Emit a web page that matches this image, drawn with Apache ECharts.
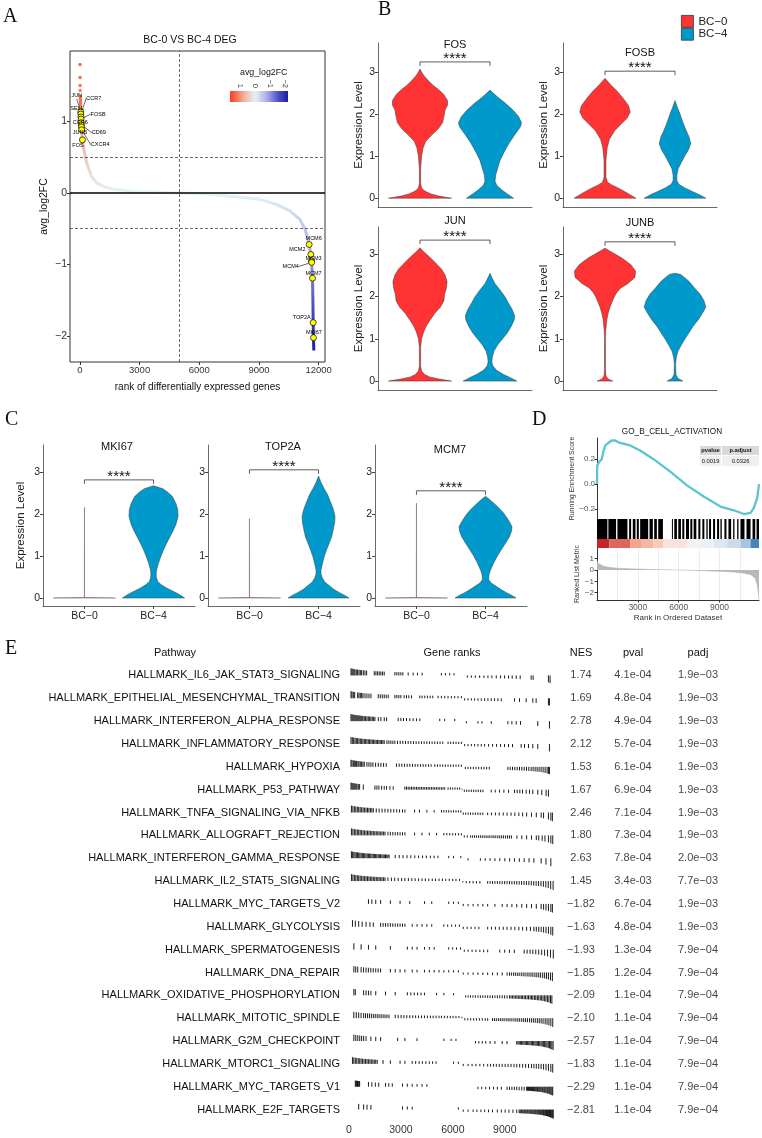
<!DOCTYPE html>
<html><head><meta charset="utf-8">
<script src="https://cdn.jsdelivr.net/npm/echarts@6/dist/echarts.min.js"></script>
<style>html,body{margin:0;padding:0;background:#fff}#c{width:762px;height:1138px}</style>
</head><body><div id="c"></div>
<script>
const FONT = "'Liberation Sans', Arial, Helvetica, sans-serif";
const SERIF = "'Liberation Serif', 'Times New Roman', Times, serif";
const MINUS = '\u2212';
const fmtMinus = v => (v < 0 ? MINUS : '') + Math.abs(v);
const N_GENES = 11900;

// ================= Panel A data =================
const aTitle = 'BC-0 VS BC-4 DEG';
const aRankTicks = [0, 3000, 6000, 9000, 12000];
const aFcTicks = [-2, -1, 0, 1];
const aFcCutoff = [0.5, -0.5];
const aRankCut = [5000];
const aCurve = [[15,1.37],[28,1.24],[40,1.13],[58,1.03],[72,0.95],[86,0.88],[105,0.8],[125,0.74],[201,0.6],[302,0.46],[419,0.35],[586,0.23],[838,0.14],[1173,0.09],[1675,0.05],[2680,0.02],[3853,0.01],[4975,0.0],[6030,-0.01],[7705,-0.05],[9045,-0.09],[9883,-0.16],[10553,-0.25],[11055,-0.37],[11306,-0.5],[11474,-0.65],[11524,-0.72],[11608,-0.86],[11641,-0.95],[11691,-1.18],[11712,-1.5],[11725,-1.81],[11741,-2.02],[11750,-2.12],[11758,-2.2]];
const aTopDots = [[3,1.79],[6,1.61],[9,1.50],[12,1.43]];
const aGeneNames = ['JUN','CCR7','SELL','FOSB','CCR6','CD69','JUNB','CXCR4','FOS','MCM6','MCM2','MCM3','MCM4','MCM7','TOP2A','MKI67'];
const aGeneRank = [40,45,52,58,66,72,78,86,125,11524,11608,11641,11650,11691,11725,11741];
const aGeneFC = [1.13,1.10,1.06,1.03,0.98,0.95,0.92,0.88,0.74,-0.72,-0.86,-0.95,-0.97,-1.19,-1.81,-2.02];
const aColorTicks = [1, 0, -1, -2];
const aColorRange = [-2.2, 1.7];
// styles / layout for panel A
const aPaletteVals = [-2.4, -1.6, -0.8, 0, 0.8, 1.6];
const aPalette = ['#0d0d9a', '#4a4ac4', '#a9a9e6', '#e3f6f6', '#f5ab98', '#f4462a'];
const aLabelShift = [[-4,-16],[13,-16],[-4,-8],[17,-5],[-1,0],[17.5,8],[-1.5,6],[18.5,15],[-4.5,5.5],[4.5,-6],[-13.5,-5],[2,-2],[-21,4],[1,-5],[-11.5,-5],[0.5,-5]];
const aLeader = [1,1,0,1,0,1,0,1,0,0,0,0,1,0,0,0];

// ================= Panels B / C data =================
const groups = ['BC\u22120', 'BC\u22124'];
const exprTicks = [0, 1, 2, 3];
const bGenes = ['FOS', 'FOSB', 'JUN', 'JUNB'];
// violin profiles: [expression level, relative half width]
const fosBC0 = [[0,1],[0.05,0.6],[0.1,0.35],[0.15,0.2],[0.2,0.1],[0.25,0.05],[0.35,0.02],[0.7,0.02],[1.0,0.05],[1.2,0.1],[1.35,0.18],[1.5,0.37],[1.65,0.58],[1.8,0.72],[1.95,0.76],[2.1,0.8],[2.22,0.88],[2.33,0.87],[2.48,0.74],[2.6,0.56],[2.68,0.42],[2.8,0.26],[2.88,0.16],[2.97,0.07],[3.07,0]];
const fosBC4 = [[0,0.75],[0.1,0.55],[0.2,0.37],[0.3,0.22],[0.4,0.16],[0.55,0.18],[0.7,0.24],[0.9,0.32],[1.1,0.45],[1.3,0.6],[1.5,0.78],[1.7,0.97],[1.8,1.0],[1.95,0.9],[2.1,0.72],[2.25,0.5],[2.4,0.25],[2.5,0.1],[2.57,0]];
const fosbBC0 = [[0,0.98],[0.08,0.8],[0.16,0.62],[0.25,0.4],[0.32,0.2],[0.38,0.08],[0.5,0.03],[0.9,0.03],[1.2,0.07],[1.4,0.14],[1.6,0.3],[1.75,0.5],[1.9,0.7],[2.05,0.8],[2.2,0.75],[2.4,0.55],[2.55,0.38],[2.7,0.18],[2.85,0]];
const fosbBC4 = [[0,0.98],[0.08,0.78],[0.16,0.55],[0.25,0.3],[0.33,0.12],[0.42,0.06],[0.55,0.06],[0.7,0.1],[0.85,0.2],[1.0,0.31],[1.15,0.43],[1.3,0.5],[1.45,0.45],[1.6,0.36],[1.8,0.25],[2.0,0.16],[2.15,0.08],[2.32,0]];
const junBC0 = [[0,1],[0.05,0.6],[0.1,0.3],[0.16,0.14],[0.24,0.05],[0.35,0.02],[0.8,0.02],[1.0,0.05],[1.15,0.11],[1.3,0.2],[1.45,0.33],[1.6,0.47],[1.75,0.65],[1.9,0.76],[2.05,0.78],[2.2,0.84],[2.35,0.86],[2.5,0.8],[2.65,0.68],[2.8,0.48],[2.95,0.28],[3.07,0.1],[3.15,0]];
const junBC4 = [[0,0.85],[0.08,0.65],[0.16,0.42],[0.26,0.2],[0.36,0.09],[0.45,0.06],[0.55,0.07],[0.7,0.12],[0.85,0.24],[1.0,0.4],[1.15,0.56],[1.3,0.68],[1.45,0.77],[1.55,0.78],[1.7,0.7],[1.85,0.58],[2.0,0.47],[2.15,0.32],[2.3,0.16],[2.45,0.06],[2.55,0]];
const junbBC0 = [[0,0.25],[0.05,0.1],[0.12,0.03],[0.3,0.015],[1.0,0.015],[1.2,0.025],[1.45,0.06],[1.6,0.1],[1.75,0.16],[1.9,0.24],[2.0,0.3],[2.1,0.38],[2.2,0.5],[2.3,0.72],[2.45,0.95],[2.6,0.97],[2.75,0.82],[2.9,0.55],[3.03,0.25],[3.14,0]];
const junbBC4 = [[0,0.25],[0.06,0.1],[0.15,0.03],[0.4,0.02],[0.55,0.04],[0.7,0.09],[0.85,0.2],[1.0,0.32],[1.15,0.45],[1.3,0.58],[1.45,0.74],[1.6,0.87],[1.75,0.98],[1.9,0.92],[2.05,0.8],[2.2,0.62],[2.35,0.45],[2.45,0.3],[2.52,0.18],[2.55,0]];
const bBracket = [3.24, 3.02, 3.33, 3.29];
const bSig = ['****', '****', '****', '****'];
const cGenes = ['MKI67', 'TOP2A', 'MCM7'];
const mki67BC0 = [[0,1],[0.012,0.004],[2.15,0.002],[2.16,0]];
const mki67BC4 = [[0,1],[0.06,0.88],[0.12,0.74],[0.18,0.58],[0.24,0.42],[0.32,0.24],[0.4,0.13],[0.5,0.09],[0.6,0.085],[0.7,0.11],[0.83,0.16],[1.0,0.24],[1.14,0.32],[1.3,0.42],[1.46,0.53],[1.6,0.63],[1.75,0.72],[1.94,0.79],[2.1,0.78],[2.25,0.72],[2.42,0.6],[2.52,0.45],[2.6,0.3],[2.67,0]];
const top2aBC0 = [[0,1],[0.012,0.004],[1.88,0.002],[1.89,0]];
const top2aBC4 = [[0,0.98],[0.06,0.85],[0.12,0.69],[0.2,0.5],[0.28,0.37],[0.38,0.2],[0.48,0.12],[0.58,0.08],[0.67,0.08],[0.8,0.12],[0.98,0.18],[1.15,0.26],[1.3,0.34],[1.45,0.42],[1.62,0.47],[1.8,0.52],[1.94,0.53],[2.1,0.48],[2.22,0.42],[2.35,0.35],[2.46,0.29],[2.6,0.18],[2.75,0.08],[2.9,0]];
const mcm7BC0 = [[0,1],[0.012,0.004],[2.25,0.002],[2.26,0]];
const mcm7BC4 = [[0,0.98],[0.06,0.85],[0.12,0.69],[0.2,0.5],[0.28,0.34],[0.36,0.18],[0.44,0.1],[0.55,0.11],[0.65,0.15],[0.83,0.26],[1.0,0.38],[1.14,0.5],[1.3,0.64],[1.46,0.77],[1.6,0.84],[1.7,0.85],[1.85,0.74],[2.02,0.58],[2.15,0.42],[2.26,0.26],[2.35,0.12],[2.42,0]];
const cBracket = [2.81, 3.05, 2.55];
const cSig = ['****', '****', '****'];

// ================= Panel D data =================
const dTitle = 'GO_B_CELL_ACTIVATION';
const dES = [[0,0.0],[20,0.15],[172,0.18],[344,0.2],[467,0.26],[614,0.31],[835,0.33],[1081,0.35],[1327,0.35],[1695,0.33],[2432,0.31],[3170,0.27],[4152,0.2],[5381,0.10],[6609,-0.01],[7838,-0.10],[9066,-0.18],[10049,-0.21],[10786,-0.24],[11278,-0.23],[11524,-0.19],[11770,-0.11],[11900,0.0]];
const dHitBlocks = [[0,762],[835,1400],[1499,2236],[2359,2506],[2629,2826],[2924,3071],[3170,3759],[3857,4103],[4201,4398],[4496,4840],[5504,5577],[5676,5872],[5970,6167],[6265,6413],[6536,6757],[6855,7002],[7100,7297],[7445,7592],[7740,7887],[8034,8133],[8231,8378],[8526,8673],[8821,8968],[9066,9165],[9361,9509],[9656,9853],[10000,10098],[10295,10393],[10540,10835],[10983,11278],[11425,11622],[11720,11900]];
const dStrip = [[0,909,1.0],[909,2432,0.75],[2432,3292,0.5],[3292,4152,0.4],[4152,4889,0.28],[4889,6609,0.12],[6609,7592,0.04],[7592,8575,-0.06],[8575,9558,-0.14],[9558,10540,-0.25],[10540,11278,-0.45],[11278,11900,-0.9]];
const dMetric = [[0,0.85],[60,0.6],[200,0.45],[500,0.32],[1000,0.22],[1500,0.16],[2500,0.1],[4000,0.05],[6000,0.0],[7500,-0.05],[9000,-0.12],[10000,-0.18],[10800,-0.28],[11300,-0.42],[11600,-0.7],[11750,-1.2],[11850,-2.0],[11900,-2.6]];
const dRankTicks = [3000, 6000, 9000];
const dESTicks = [-0.2, 0, 0.2];
const dMetricTicks = [-2, -1, 0, 1];
const dPvalue = 0.0019;
const dPadjust = 0.0326;
const dStripPalette = ['#2f75b5', '#9dbedf', '#f8f8f8', '#f4a58e', '#c8252a'];

// ================= Panel E data =================
const ePathways = ['HALLMARK_IL6_JAK_STAT3_SIGNALING','HALLMARK_EPITHELIAL_MESENCHYMAL_TRANSITION','HALLMARK_INTERFERON_ALPHA_RESPONSE','HALLMARK_INFLAMMATORY_RESPONSE','HALLMARK_HYPOXIA','HALLMARK_P53_PATHWAY','HALLMARK_TNFA_SIGNALING_VIA_NFKB','HALLMARK_ALLOGRAFT_REJECTION','HALLMARK_INTERFERON_GAMMA_RESPONSE','HALLMARK_IL2_STAT5_SIGNALING','HALLMARK_MYC_TARGETS_V2','HALLMARK_GLYCOLYSIS','HALLMARK_SPERMATOGENESIS','HALLMARK_DNA_REPAIR','HALLMARK_OXIDATIVE_PHOSPHORYLATION','HALLMARK_MITOTIC_SPINDLE','HALLMARK_G2M_CHECKPOINT','HALLMARK_MTORC1_SIGNALING','HALLMARK_MYC_TARGETS_V1','HALLMARK_E2F_TARGETS'];
const eNES = [1.74,1.69,2.78,2.12,1.53,1.67,2.46,1.80,2.63,1.45,-1.82,-1.63,-1.93,-1.85,-2.09,-2.10,-2.57,-1.83,-2.29,-2.81];
const ePval = [4.1e-4,4.8e-4,4.9e-4,5.7e-4,6.1e-4,6.9e-4,7.1e-4,7.3e-4,7.8e-4,3.4e-3,6.7e-4,4.8e-4,1.3e-4,1.2e-4,1.1e-4,1.1e-4,1.1e-4,1.1e-4,1.1e-4,1.1e-4];
const ePadj = [1.9e-3,1.9e-3,1.9e-3,1.9e-3,1.9e-3,1.9e-3,1.9e-3,1.9e-3,2.0e-3,7.7e-3,1.9e-3,1.9e-3,7.9e-4,7.9e-4,7.9e-4,7.9e-4,7.9e-4,7.9e-4,7.9e-4,7.9e-4];
const eHeaders = ['Pathway', 'Gene ranks', 'NES', 'pval', 'padj'];
const eRankTicks = [0, 3000, 6000, 9000];
// gene-level statistic along the ranked list (relative, used for tick heights)
const eStat = [[0,0.66],[300,0.55],[800,0.45],[1500,0.37],[2500,0.3],[4000,0.24],[6000,0.2],[6500,0.19],[6600,-0.19],[8000,-0.23],[9500,-0.29],[10500,-0.37],[11100,-0.46],[11500,-0.6],[11750,-0.76],[11900,-0.82]];
const eHits = [
[115,173,230,288,346,422,500,576,653,730,826,922,1018,1459,1555,1651,1747,1843,1939,2035,2650,2765,2880,2995,3110,3418,3706,3955,4224,5338,5568,5818,6067,6835,7066,7296,7546,7795,8026,8256,8506,8755,8986,9216,9427,9658,9888,10522,10637,11520,11616],
[115,173,250,326,499,576,653,730,806,922,1037,1152,1267,1690,1805,1920,2035,2150,2266,2650,2765,2880,2995,3187,3322,3456,3610,4090,4224,4378,4531,4685,4838,5146,5338,5530,5722,5914,6106,6298,6490,6682,6874,7066,7258,7450,7642,7834,8026,8218,8410,8602,8794,9562,9850,10234,10618,10810,11520,11578],
[115,173,230,288,346,403,461,518,576,634,691,749,806,883,960,1037,1114,1190,1267,1344,1421,1498,1690,1843,2035,2170,2842,2995,3149,3322,3514,3706,3898,4090,5242,5530,6106,6778,7450,7680,8218,9178,9408,9658,9907,10906,11578],
[115,192,269,346,422,499,576,653,730,806,883,960,1037,1114,1190,1267,1344,1421,1498,1574,1651,1728,1805,1882,1958,2035,2189,2304,2419,2534,2650,2803,2957,3110,3264,3418,3571,3725,3878,4032,4186,4339,4493,4646,4800,4954,5107,5261,5414,5722,5875,6029,6182,6336,6490,6682,6874,7066,7258,7450,7642,7834,8064,8294,8525,8755,8986,9216,9446,9946,10138,10368,10618,10906,11578],
[115,173,250,307,384,442,518,576,653,730,806,883,1037,1152,1267,1382,1536,1690,1843,1997,2150,2746,2899,3053,3206,3360,3514,3667,3821,3974,4128,4282,4435,4589,4742,4954,5107,5261,5414,5568,5722,5875,6029,6182,6336,6490,6720,6874,7027,7181,7334,7488,7642,7795,7949,8102,9178,9312,9446,9581,9715,9850,9984,10118,10253,10387,10522,10637,10752,10867,10982,11098,11213,11328,11443,11520,11578],
[115,173,230,288,346,403,461,538,614,826,1498,1613,1728,1882,2035,2170,2362,2554,3226,3322,3418,3514,3610,3706,3802,3898,3994,4090,4186,4282,4378,4474,4570,4666,4762,4858,4954,5050,5146,5242,5338,5434,5530,5722,5856,5990,6125,6259,6394,6528,6662,6797,6931,7066,7200,7334,7469,7603,7738,8218,8448,8698,8947,9216,9562,9715,9869,10022,10234,10426,10618,10906,11136,11386,11520],
[140,225,310,395,480,560,645,730,815,900,985,1070,1150,1235,1320,1405,1575,1740,1910,2080,2250,2415,2585,2755,2920,3090,3230,3790,4070,4500,4920,5340,5480,5620,5760,5900,6040,6180,6320,6460,6600,6740,6880,7020,7160,7300,7440,7580,7730,8010,8230,8460,8680,8910,9130,9360,9580,9810,10030,10260,10540,10820,11100,11240,11520,11660,11750],
[140,225,310,395,480,560,645,730,815,900,985,1070,1150,1235,1320,1405,1490,1575,1660,1740,1830,1910,2000,2080,2250,2390,2530,2670,2810,2950,3090,3230,3790,4215,4640,5060,5480,5650,5820,5990,6150,6320,6490,6660,6830,7030,7140,7250,7360,7480,7590,7700,7810,7920,8030,8140,8260,8370,8480,8600,8710,8820,8930,9050,9160,9270,9380,9700,9980,10260,10540,10820,10960,11160,11320,11520,11660,11770],
[140,210,280,350,420,490,560,630,700,770,840,910,980,1050,1120,1190,1260,1330,1400,1470,1540,1610,1680,1750,1820,1900,1970,2040,2110,2180,2250,2320,2670,2900,3120,3350,3570,3800,4020,4250,4470,4700,4920,5140,5760,6040,6460,6880,7590,7870,8150,8430,8710,9000,9280,9560,9840,10120,10400,10680,11100,11380,11660],
[140,225,310,395,480,560,645,730,815,900,985,1070,1150,1235,1320,1405,1490,1575,1660,1740,1830,1910,2000,2080,2250,2450,2640,2840,3040,3230,3430,3630,3820,4020,4220,4410,4610,4810,5000,5200,5400,5590,5790,5990,6180,6380,6580,6770,6970,7170,7360,7560,8010,8150,8290,8430,8570,8710,8850,8990,9130,9270,9410,9550,9690,9830,9970,10110,10250,10390,10530,10670,10810,10950,11090,11230,11370,11510,11650,11790],
[1124,1320,1545,1826,2390,2950,3510,4360,4780,5760,6040,6320,6600,6880,7170,7450,7730,8010,8430,8850,9130,9410,9690,9980,10260,10540,10820,11100,11240,11380,11520,11660,11750],
[200,365,560,760,985,1210,1405,1826,1970,2110,2250,2390,2530,2670,2810,2950,3090,3230,3650,3930,4220,4500,4780,5480,5700,5930,6150,6380,6600,6830,7050,7280,7500,8010,8230,8460,8680,8910,9130,9360,9580,9810,10030,10260,10480,10680,10820,10960,11100,11240,11380,11520,11660,11770],
[280,700,1124,1545,2390,3370,3650,3930,4360,4640,4920,5760,5990,6210,6440,6660,6880,7110,7330,7560,7780,8010,8710,8990,9270,9550,10120,10290,10460,10620,10790,10960,11130,11300,11470,11640,11800],
[280,390,505,700,840,985,1120,1260,1400,1545,1685,1825,2390,2670,2950,3230,3650,3930,4360,4640,4920,5200,5480,5760,6040,6320,6600,6880,7170,7450,7730,8010,8290,8570,8850,9130,9270,9380,9500,9610,9720,9830,9950,10060,10170,10290,10400,10510,10620,10740,10850,10960,11070,11190,11300,11410,11520,11640,11750],
[280,365,845,985,1124,1265,1545,2110,2670,3370,3570,3770,3960,4160,4360,5060,5480,6040,6740,6880,7020,7160,7300,7450,7590,7730,7870,8010,8150,8290,8430,8570,8710,8850,8990,9130,9270,9360,9440,9530,9610,9700,9780,9870,9950,10030,10120,10200,10290,10370,10460,10540,10620,10710,10790,10880,10960,11050,11130,11210,11300,11380,11470,11550,11640,11720],
[280,420,560,700,845,955,1070,1180,1290,1405,1515,1630,1740,1855,1970,2080,2190,2310,2670,2840,3010,3170,3340,3510,3680,3850,4020,4190,4360,4530,4700,4860,5030,5200,5340,5510,5680,5850,6010,6180,6350,6520,6690,6860,7030,7200,7360,7530,7700,7870,8010,8290,8400,8510,8630,8740,8850,8960,9080,9190,9300,9410,9530,9640,9750,9860,9980,10090,10200,10310,10430,10540,10650,10760,10880,10990,11100,11210,11330,11440,11550,11660,11770],
[280,390,505,620,730,845,985,1265,1545,1826,2810,3230,3930,5480,5900,6180,7310,7500,7700,7900,8150,8430,8850,9130,9690,9760,9830,9900,9970,10040,10110,10180,10250,10320,10390,10460,10530,10600,10670,10740,10810,10880,10950,11020,11090,11160,11230,11300,11370,11440,11510,11580,11650,11720,11790],
[200,280,365,450,535,620,700,785,870,955,1040,1120,1210,1290,1380,1460,1545,1630,1966,2390,2950,3230,3650,3850,4050,4240,4440,4640,4830,5030,6040,6320,6600,6880,7110,7330,7560,7780,8010,8180,8350,8510,8680,8850,9020,9190,9360,9530,9690,9860,10030,10200,10370,10540,10680,10820,10960,11100,11240,11380,11520,11660,11770],
[365,410,450,490,530,575,615,1124,1320,1520,1715,2110,2300,2500,3090,3370,3650,3930,4220,4500,7450,7670,7900,8120,8350,8570,8800,9130,9270,9410,9550,9690,9830,9980,10120,10260,10310,10370,10430,10480,10540,10600,10650,10710,10760,10820,10880,10930,10990,11040,11100,11160,11210,11270,11320,11380,11440,11490,11550,11600,11660,11720,11770],
[560,845,1040,1265,3090,3370,3650,6320,6600,6880,7170,7390,7620,7840,8060,8290,8570,8800,9020,9240,9470,9690,9830,9890,9950,10000,10060,10120,10170,10230,10290,10340,10400,10460,10510,10570,10620,10680,10740,10790,10850,10910,10960,11020,11070,11130,11190,11240,11300,11360,11410,11470,11520,11580,11640,11690,11750,11800]
];

// ================= helpers =================
const groupColors = ['#FF3333', '#0099CC'];
const VW = 0.45;
const plainNum = v => String(v);
function hexToRgb(h) { const n = parseInt(h.slice(1), 16); return [(n >> 16) & 255, (n >> 8) & 255, n & 255]; }
function paletteAt(vals, cols, v) {
  if (v <= vals[0]) return cols[0];
  if (v >= vals[vals.length - 1]) return cols[cols.length - 1];
  for (let i = 0; i < vals.length - 1; i++) {
    if (v <= vals[i + 1]) {
      const t = (v - vals[i]) / (vals[i + 1] - vals[i]);
      const a = hexToRgb(cols[i]), b = hexToRgb(cols[i + 1]);
      return 'rgb(' + a.map((c, k) => Math.round(c + (b[k] - c) * t)).join(',') + ')';
    }
  }
}
function statAt(r) {
  for (let i = 0; i < eStat.length - 1; i++) {
    if (r <= eStat[i + 1][0]) {
      const [r0, s0] = eStat[i], [r1, s1] = eStat[i + 1];
      return s0 + (s1 - s0) * (r - r0) / (r1 - r0);
    }
  }
  return eStat[eStat.length - 1][1];
}
function fmtExp(v, minus) {
  const [m, e] = v.toExponential(1).split('e');
  const ex = parseInt(e, 10);
  return m + 'e' + (ex < 0 ? minus : '+') + String(Math.abs(ex)).padStart(2, '0');
}
function txt(text, x, y, size, opts) {
  opts = opts || {};
  const align = opts.align || 'center';
  const valign = opts.valign || 'middle';
  return { type: 'text', x: x, y: y, silent: true, rotation: opts.rotation || 0,
    style: { text: text, x: 0, y: 0, fill: opts.color || '#111', fontSize: size, fontFamily: opts.family || FONT,
      fontWeight: opts.weight || 'normal', align: align, verticalAlign: valign, textAlign: align, textVerticalAlign: valign } };
}

const grids = [], xAxes = [], yAxes = [], series = [], graphics = [];
function addGrid(g, x, y) {
  grids.push(Object.assign({ containLabel: false }, g));
  const gi = grids.length - 1;
  x.gridIndex = gi; y.gridIndex = gi;
  x.axisLine = Object.assign({ onZero: false }, x.axisLine || {});
  y.axisLine = Object.assign({ onZero: false }, y.axisLine || {});
  xAxes.push(x); yAxes.push(y);
  return { gi: gi, xi: xAxes.length - 1, yi: yAxes.length - 1 };
}

// ================= Panel A =================
const A = addGrid({ left: 70, top: 51, width: 255, height: 311, show: true, borderColor: '#333', borderWidth: 1 },
  { type: 'value', min: -500, max: 12320, axisLine: { show: false }, splitLine: { show: false },
    axisTick: { show: true, customValues: aRankTicks, length: 3, lineStyle: { color: '#333' } },
    axisLabel: { customValues: aRankTicks, fontSize: 9.5, color: '#333', margin: 3, formatter: plainNum },
    name: 'rank of differentially expressed genes', nameLocation: 'middle', nameGap: 20, nameTextStyle: { fontSize: 10, color: '#111' } },
  { type: 'value', min: -2.36, max: 1.98, axisLine: { show: false }, splitLine: { show: false },
    axisTick: { show: true, customValues: aFcTicks, length: 3, lineStyle: { color: '#333' } },
    axisLabel: { customValues: aFcTicks, fontSize: 10.5, color: '#333', margin: 3, formatter: v => fmtMinus(v) },
    name: 'avg_log2FC', nameLocation: 'middle', nameGap: 20, nameTextStyle: { fontSize: 10.5, color: '#111' } });
const idxCurve = series.length;
series.push({ type: 'line', xAxisIndex: A.xi, yAxisIndex: A.yi, data: aCurve, showSymbol: false, symbol: 'none', silent: true,
  lineStyle: { width: 3 }, z: 3,
  markLine: { silent: true, symbol: 'none', label: { show: false }, animation: false,
    data: [].concat(
      aFcCutoff.map(v => ({ yAxis: v, lineStyle: { type: [3, 2], color: '#444', width: 0.8 } })),
      aRankCut.map(v => ({ xAxis: v, lineStyle: { type: [3, 2], color: '#444', width: 0.8 } })),
      [{ yAxis: 0, lineStyle: { type: 'solid', color: '#000', width: 1.6 } }]) } });
const idxDots = series.length;
series.push({ type: 'scatter', xAxisIndex: A.xi, yAxisIndex: A.yi, data: aTopDots, symbolSize: 3.5, silent: true, z: 3 });
series.push({ type: 'scatter', xAxisIndex: A.xi, yAxisIndex: A.yi, z: 6, silent: true,
  data: aGeneNames.map((n, i) => ({ name: n, value: [aGeneRank[i], aGeneFC[i]], labelLine: { show: !!aLeader[i] } })),
  symbolSize: 6, itemStyle: { color: '#ffff00', borderColor: '#000', borderWidth: 0.7, opacity: 1 },
  label: { show: true, position: 'inside', formatter: '{b}', fontSize: 5.5, color: '#000', textBorderWidth: 0 },
  labelLayout: p => ({ dx: aLabelShift[p.dataIndex][0], dy: aLabelShift[p.dataIndex][1] }),
  labelLine: { lineStyle: { color: '#000', width: 0.6 }, length2: 0 } });
// colour bar legend
const CB = addGrid({ left: 230, top: 91, width: 58, height: 11 },
  { type: 'value', min: aColorRange[0], max: aColorRange[1], inverse: true, position: 'top', axisLine: { show: false },
    axisTick: { show: false }, splitLine: { show: false },
    axisLabel: { customValues: aColorTicks, rotate: 90, fontSize: 7.5, margin: 3, color: '#333', formatter: v => fmtMinus(v) } },
  { type: 'value', min: 0, max: 1, show: false });
series.push({ type: 'custom', xAxisIndex: CB.xi, yAxisIndex: CB.yi, silent: true, data: [[aColorRange[1], aColorRange[0]]],
  renderItem: (params, api) => {
    const hi = api.value(0), lo = api.value(1);
    const p1 = api.coord([hi, 1]), p2 = api.coord([lo, 0]);
    const stops = [];
    for (let k = 0; k <= 24; k++) { const v = hi + (lo - hi) * k / 24; stops.push({ offset: k / 24, color: paletteAt(aPaletteVals, aPalette, v) }); }
    return { type: 'rect', shape: { x: p1[0], y: p1[1], width: p2[0] - p1[0], height: p2[1] - p1[1] },
      style: { fill: new echarts.graphic.LinearGradient(0, 0, 1, 0, stops) } };
  } });
graphics.push(txt('avg_log2FC', 240, 73, 8.8, { align: 'left' }));
graphics.push(txt(aTitle, 190, 40, 10.5));

// ================= violin helpers =================
function violinSeries(ax, xc, prof, name, color, stroke) {
  return { type: 'custom', name: name, xAxisIndex: ax.xi, yAxisIndex: ax.yi, silent: true, data: [[xc, 0]],
    itemStyle: { color: color, borderColor: '#333', borderWidth: 0.5 },
    renderItem: (params, api) => {
      const c = api.value(0);
      const pts = [];
      prof.forEach(p => pts.push(api.coord([c - p[1] * VW, p[0]])));
      for (let i = prof.length - 1; i >= 0; i--) pts.push(api.coord([c + prof[i][1] * VW, prof[i][0]]));
      return { type: 'polygon', shape: { points: pts }, style: { fill: color, stroke: stroke || '#3a3a3a', lineWidth: 0.5 } };
    } };
}
function bracketSeries(ax, y, sig) {
  return { type: 'custom', xAxisIndex: ax.xi, yAxisIndex: ax.yi, silent: true, data: [[1, y, 2]],
    renderItem: (params, api) => {
      const p1 = api.coord([api.value(0), api.value(1)]), p2 = api.coord([api.value(2), api.value(1)]);
      return { type: 'group', children: [
        { type: 'polyline', shape: { points: [[p1[0], p1[1] + 4], [p1[0], p1[1]], [p2[0], p2[1]], [p2[0], p2[1] + 4]] },
          style: { stroke: '#333', lineWidth: 0.8, fill: null } },
        { type: 'text', style: { text: sig, x: (p1[0] + p2[0]) / 2, y: p1[1] - 3, align: 'center', verticalAlign: 'middle',
          textAlign: 'center', textVerticalAlign: 'middle', fontSize: 15, fill: '#111', fontFamily: FONT } }
      ] };
    } };
}
function violinPanel(box, ylim, profiles, bracketY, sig, showX, yName, yNameGap, strokes) {
  const ax = addGrid({ left: box[0], top: box[1], width: box[2], height: box[3] },
    { type: 'value', min: 0.4, max: 2.6, splitLine: { show: false },
      axisLine: { show: true, lineStyle: { color: '#444', width: 0.8 } },
      axisTick: { show: showX, customValues: [1, 2], length: 3, lineStyle: { color: '#444' } },
      axisLabel: { show: showX, customValues: [1, 2], formatter: v => groups[Math.round(v) - 1], fontSize: 10.5, color: '#222', margin: 5 } },
    { type: 'value', min: ylim[0], max: ylim[1], splitLine: { show: false },
      axisLine: { show: true, lineStyle: { color: '#444', width: 0.8 } },
      axisTick: { show: true, customValues: exprTicks, length: 3, lineStyle: { color: '#444' } },
      axisLabel: { customValues: exprTicks, fontSize: 10.5, color: '#222', margin: 3 },
      name: yName, nameLocation: 'middle', nameGap: yNameGap, nameTextStyle: { fontSize: 11.5, color: '#222' } });
  profiles.forEach((prof, g) => series.push(violinSeries(ax, g + 1, prof, groups[g], groupColors[g], strokes ? strokes[g] : null)));
  series.push(bracketSeries(ax, bracketY, sig));
}

// ================= Panel B =================
const bProfiles = [[fosBC0, fosBC4], [fosbBC0, fosbBC4], [junBC0, junBC4], [junbBC0, junbBC4]];
const bBoxes = [[378, 43, 154, 164], [563, 43, 154, 164], [378, 227, 154, 163], [563, 227, 154, 163]];
const bYLim = [[-0.21, 3.69], [-0.21, 3.69], [-0.21, 3.64], [-0.21, 3.64]];
const bTitlePos = [[455, 45], [640, 53], [455, 221], [640, 223]];
bGenes.forEach((g, i) => {
  violinPanel(bBoxes[i], bYLim[i], bProfiles[i], bBracket[i], bSig[i], false, 'Expression Level', 12);
  graphics.push(txt(g, bTitlePos[i][0], bTitlePos[i][1], 11));
});

// ================= Panel C =================
const cProfiles = [[mki67BC0, mki67BC4], [top2aBC0, top2aBC4], [mcm7BC0, mcm7BC4]];
const cBoxes = [[43, 445, 152, 161], [208, 445, 152, 161], [375, 445, 152, 161]];
const cYLim = [-0.19, 3.64];
const cTitlePos = [[117, 447], [283, 447], [450, 450]];
cGenes.forEach((g, i) => {
  violinPanel(cBoxes[i], cYLim, cProfiles[i], cBracket[i], cSig[i], true, i === 0 ? 'Expression Level' : '', 16, ['#666', '#3a3a3a']);
  graphics.push(txt(g, cTitlePos[i][0], cTitlePos[i][1], 11));
});

// ================= Panel D =================
const D1 = addGrid({ left: 597, top: 438, width: 162, height: 81 },
  { type: 'value', min: 0, max: N_GENES, show: false },
  { type: 'value', min: -0.28, max: 0.37, splitLine: { show: false },
    axisLine: { show: true, lineStyle: { color: '#000', width: 0.8 } },
    axisTick: { customValues: dESTicks, length: 2.5, lineStyle: { color: '#333' } },
    axisLabel: { customValues: dESTicks, fontSize: 8, color: '#555', margin: 2, formatter: v => (v < 0 ? MINUS : '') + Math.abs(v).toFixed(1) },
    name: 'Running Enrichment Score', nameLocation: 'middle', nameGap: 17, nameTextStyle: { fontSize: 7, color: '#333' } });
series.push({ type: 'line', xAxisIndex: D1.xi, yAxisIndex: D1.yi, data: dES, showSymbol: false, symbol: 'none', silent: true,
  lineStyle: { color: '#5BC5CF', width: 2.3 } });
const D2 = addGrid({ left: 597, top: 519, width: 162, height: 20 },
  { type: 'value', min: 0, max: N_GENES, show: false }, { type: 'value', min: 0, max: 1, show: false });
series.push({ type: 'custom', xAxisIndex: D2.xi, yAxisIndex: D2.yi, data: dHitBlocks, silent: true,
  renderItem: (params, api) => {
    const a = api.coord([api.value(0), 1]), b = api.coord([api.value(1), 0]);
    return { type: 'rect', shape: { x: a[0], y: a[1], width: Math.max(0.7, b[0] - a[0]), height: b[1] - a[1] }, style: { fill: '#000' } };
  } });
const D3 = addGrid({ left: 597, top: 539, width: 162, height: 9 },
  { type: 'value', min: 0, max: N_GENES, show: false }, { type: 'value', min: 0, max: 1, show: false });
const idxStrip = series.length;
series.push({ type: 'custom', xAxisIndex: D3.xi, yAxisIndex: D3.yi, data: dStrip, silent: true,
  encode: { x: [0, 1], y: 2 },
  renderItem: (params, api) => {
    const a = api.coord([api.value(0), 1]), b = api.coord([api.value(1), 0]);
    return { type: 'rect', shape: { x: a[0], y: a[1], width: b[0] - a[0], height: b[1] - a[1] }, style: { fill: api.visual('color') } };
  } });
const D4 = addGrid({ left: 597, top: 548, width: 162, height: 52 },
  { type: 'value', min: 0, max: N_GENES, interval: 3000,
    axisLine: { show: true, lineStyle: { color: '#000', width: 0.8 } },
    axisTick: { customValues: dRankTicks, length: 2.5, lineStyle: { color: '#333' } },
    axisLabel: { customValues: dRankTicks, fontSize: 8.5, color: '#555', margin: 3, formatter: plainNum },
    splitLine: { show: true, lineStyle: { color: '#e8e8e8', width: 0.8 } },
    minorTick: { show: false, splitNumber: 2 }, minorSplitLine: { show: true, lineStyle: { color: '#e8e8e8', width: 0.8 } },
    name: 'Rank in Ordered Dataset', nameLocation: 'middle', nameGap: 14, nameTextStyle: { fontSize: 8, color: '#333' } },
  { type: 'value', min: -2.65, max: 1.94, splitLine: { show: false },
    axisLine: { show: true, lineStyle: { color: '#000', width: 0.8 } },
    axisTick: { customValues: dMetricTicks, length: 2.5, lineStyle: { color: '#333' } },
    axisLabel: { customValues: dMetricTicks, fontSize: 8, color: '#555', margin: 3, formatter: v => fmtMinus(v) },
    name: 'Ranked List Metric', nameLocation: 'middle', nameGap: 15, nameTextStyle: { fontSize: 7, color: '#333' } });
series.push({ type: 'line', xAxisIndex: D4.xi, yAxisIndex: D4.yi, data: dMetric, showSymbol: false, symbol: 'none', silent: true,
  lineStyle: { color: '#b3b3b3', width: 0.5 }, areaStyle: { color: '#b8b8b8', opacity: 1, origin: 0 } });
graphics.push(txt(dTitle, 672, 432, 8.2));
// small result table
graphics.push({ type: 'rect', silent: true, shape: { x: 700, y: 446, width: 21, height: 9 }, style: { fill: '#d9d9d9' } });
graphics.push({ type: 'rect', silent: true, shape: { x: 722, y: 446, width: 37, height: 9 }, style: { fill: '#d9d9d9' } });
graphics.push({ type: 'rect', silent: true, shape: { x: 700, y: 456, width: 21, height: 10 }, style: { fill: '#efefef' } });
graphics.push({ type: 'rect', silent: true, shape: { x: 722, y: 456, width: 37, height: 10 }, style: { fill: '#efefef' } });
graphics.push(txt('pvalue', 710.5, 450.8, 5.8, { weight: 'bold' }));
graphics.push(txt('p.adjust', 740.5, 450.8, 5.8, { weight: 'bold' }));
graphics.push(txt(dPvalue.toFixed(4), 710.5, 461.3, 5.8));
graphics.push(txt(dPadjust.toFixed(4), 740.5, 461.3, 5.8));

// ================= Panel E =================
const E = addGrid({ left: 349, top: 664, width: 206, height: 457 },
  { type: 'value', min: 0, max: N_GENES, axisLine: { show: false }, splitLine: { show: false },
    axisTick: { customValues: eRankTicks, length: 3, lineStyle: { color: '#333' } },
    axisLabel: { customValues: eRankTicks, fontSize: 10.5, color: '#333', margin: 4, formatter: plainNum } },
  { type: 'category', data: ePathways, inverse: true, axisLine: { show: false }, axisTick: { show: false }, splitLine: { show: false },
    axisLabel: { interval: 0, fontSize: 11, color: '#111', margin: 9, align: 'right' } });
xAxes.push({ gridIndex: E.gi, type: 'value', position: 'top', min: 0, max: N_GENES, axisLine: { show: false, onZero: false },
  axisTick: { show: false }, axisLabel: { show: false }, splitLine: { show: false },
  name: eHeaders[1], nameLocation: 'middle', nameGap: 6, nameTextStyle: { fontSize: 11, color: '#111' } });
const eBars = [];
eHits.forEach((hits, row) => hits.forEach(r => eBars.push([r, row, statAt(r)])));
series.push({ type: 'custom', xAxisIndex: E.xi, yAxisIndex: E.yi, data: eBars, silent: true,
  renderItem: (params, api) => {
    const p = api.coord([api.value(0), api.value(1)]);
    const half = api.size([0, 1])[1] / 2;
    const h = api.value(2) * half;
    return { type: 'line', shape: { x1: p[0], y1: p[1], x2: p[0], y2: p[1] - h }, style: { stroke: '#000', lineWidth: 0.9 } };
  } });
graphics.push(txt(eHeaders[0], 175, 652.5, 11));
const eColumns = [
  { header: eHeaders[2], cx: 581, text: eNES.map(v => (v < 0 ? MINUS : '') + Math.abs(v).toFixed(2)) },
  { header: eHeaders[3], cx: 633, text: ePval.map(v => fmtExp(v, '-')) },
  { header: eHeaders[4], cx: 698, text: ePadj.map(v => fmtExp(v, MINUS)) }
];
eColumns.forEach(col => {
  const ax = addGrid({ left: col.cx - 25, top: 664, width: 50, height: 457 },
    { type: 'category', data: [col.header], position: 'top', axisLine: { show: false }, axisTick: { show: false },
      axisLabel: { fontSize: 11, color: '#111', margin: 6 }, splitLine: { show: false } },
    { type: 'category', data: ePathways, inverse: true, show: false });
  series.push({ type: 'scatter', xAxisIndex: ax.xi, yAxisIndex: ax.yi, silent: true, symbolSize: 1,
    itemStyle: { color: 'rgba(0,0,0,0)' }, data: ePathways.map((p, i) => [0, i]),
    label: { show: true, position: 'inside', formatter: p => col.text[p.dataIndex], fontSize: 11, color: '#111' } });
});

// ================= panel letters =================
[['A', 3, 7], ['B', 378, 0], ['C', 5, 410], ['D', 532, 410], ['E', 5, 639]].forEach(l =>
  graphics.push(txt(l[0], l[1], l[2], 20, { align: 'left', valign: 'top', family: SERIF, color: '#111' })));

const option = {
  animation: false,
  backgroundColor: '#fff',
  textStyle: { fontFamily: FONT },
  grid: grids, xAxis: xAxes, yAxis: yAxes, series: series,
  legend: { data: groups, left: 676, top: 10, orient: 'vertical', itemWidth: 12, itemHeight: 12, itemGap: 0, icon: 'rect',
    selectedMode: false, textStyle: { fontSize: 11.5, color: '#222', fontFamily: FONT },
    itemStyle: { borderColor: '#333', borderWidth: 0.8 } },
  visualMap: [
    { type: 'continuous', show: false, seriesIndex: [idxCurve, idxDots], dimension: 1, min: aPaletteVals[0], max: aPaletteVals[aPaletteVals.length - 1], inRange: { color: aPalette } },
    { type: 'continuous', show: false, seriesIndex: [idxStrip], dimension: 2, min: -1, max: 1, inRange: { color: dStripPalette } }
  ],
  graphic: graphics
};
const chart = echarts.init(document.getElementById('c'), null, { renderer: 'canvas' });
chart.setOption(option);
</script></body></html>
